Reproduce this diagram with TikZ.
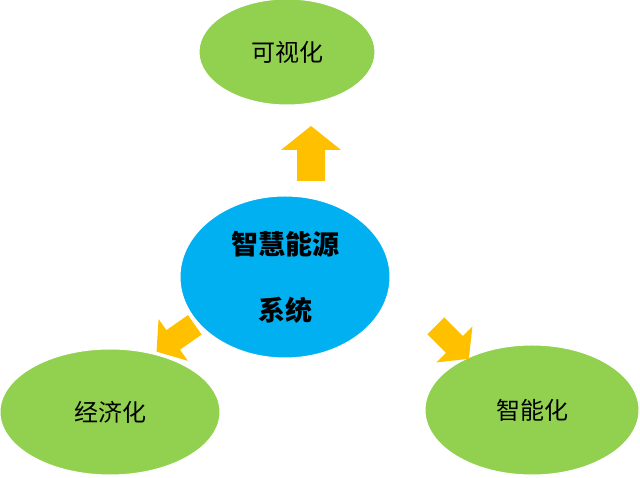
\documentclass[tikz,border=0pt]{standalone}
\usepackage{fontspec}
\newfontfamily\cjk{Noto Sans CJK SC}
\usetikzlibrary{shapes.geometric}
\definecolor{leaf}{HTML}{92D050}
\definecolor{sky}{HTML}{00B0F0}
\definecolor{amber}{HTML}{FFC000}
\tikzset{
  goal/.style={ellipse, fill=leaf, draw=white, line width=1pt, font=\cjk\fontsize{24}{28}\selectfont},
  core/.style={ellipse, fill=sky, draw=white, line width=1pt, align=center, font=\cjk\bfseries\fontsize{27}{66}\selectfont},
  blockarrow/.pic={\fill[amber] (-27,-14) -- (4,-14) -- (4,-30) -- (28,0) -- (4,30) -- (4,14) -- (-27,14) -- cycle;}
}
\begin{document}
\begin{tikzpicture}[x=1pt, y=1pt]
    \useasboundingbox (0,0) rectangle (640,478);
    % outer goals
    \node [goal, minimum width=176pt, minimum height=106pt] (visual) at (287,426) {可视化};
    \node [goal, minimum width=220pt, minimum height=126pt] (economic) at (110,66) {经济化};
    \node [goal, minimum width=214pt, minimum height=130pt] (smart) at (532,68) {智能化};
    % arrows
    \pic [rotate=90] at (311,324) {blockarrow};
    \pic [rotate=215, scale=0.85] at (176,140) {blockarrow};
    \pic [rotate=-45, scale=0.85] at (452,136) {blockarrow};
    % centre
    \node [core, minimum width=210pt, minimum height=162pt] (energy) at (285,201) {智慧能源\\系统};
\end{tikzpicture}
\end{document}
